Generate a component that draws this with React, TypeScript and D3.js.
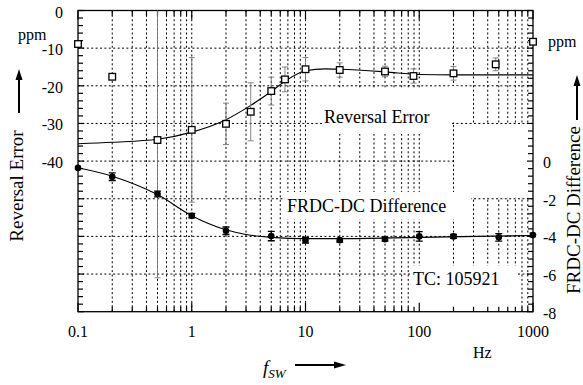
import React from "react";
import * as d3 from "d3";

// Reversal error (ppm, left axis) measured vs. switching frequency
const revFreq = [0.1, 0.2, 0.5, 1, 2, 3.3, 5, 6.6, 10, 20, 50, 89, 200, 470, 1000];
const revValue = [-8.9, -17.6, -34.4, -31.7, -30.1, -26.9, -21.4, -18.3, -15.6, -15.8, -16.2, -17.4, -16.7, -14.3, -8.3];
const revErr = [0, 0, 36.6, 19.2, 5.5, 7.7, 3.7, 3.3, 3.1, 1.9, 1.4, 1.9, 1.8, 1.7, 0];
// Fitted trend for the reversal error
const revFitFreq = [0.1, 0.2, 0.5, 1, 2, 3.3, 5, 6.6, 10, 15, 20, 50, 100, 200, 1000];
const revFitValue = [-35.4, -35.0, -34.2, -32.3, -29.0, -25.2, -21.5, -18.8, -16.0, -15.5, -15.6, -16.3, -17.0, -17.1, -17.1];

// FRDC-DC difference (ppm, right axis)
const frdcFreq = [0.1, 0.2, 0.5, 1, 2, 5, 10, 20, 50, 100, 200, 500, 1000];
const frdcValue = [-0.36, -0.83, -1.75, -2.9, -3.7, -3.98, -4.2, -4.2, -4.15, -4.0, -4.0, -4.05, -3.93];
const frdcErr = [0, 0.2, 0.15, 0.12, 0.2, 0.25, 0.15, 0.1, 0.1, 0.25, 0.1, 0.2, 0.1];
const frdcFitFreq = [0.1, 0.2, 0.5, 1, 2, 3, 5, 10, 20, 100, 1000];
const frdcFitValue = [-0.35, -0.8, -1.78, -2.9, -3.65, -3.9, -4.05, -4.12, -4.12, -4.05, -3.95];

// Axis ticks
const xTickValues = [0.1, 1, 10, 100, 1000];
const xTickLabels = ["0.1", "1", "10", "100", "1000"];
const leftTickValues = [0, -10, -20, -30, -40];
const rightTickValues = [0, -2, -4, -6, -8];

const FONT = "'Liberation Serif', 'Times New Roman', serif";

const L = 78, R = 533, T = 10.5, B = 311.7;

export default function App() {
  const x = d3.scaleLog().domain([0.1, 1000]).range([L, R]);
  const yL = d3.scaleLinear().domain([-80, 0]).range([B, T]);
  const yR = d3.scaleLinear().domain([-8, 8]).range([B, T]);

  // decade and sub-decade positions on the log axis
  const logPos: { v: number; major: boolean }[] = [];
  for (let e = -1; e <= 3; e++) {
    for (let m = 1; m <= 9; m++) {
      const v = m * Math.pow(10, e);
      if (v > 1000.0001) break;
      logPos.push({ v, major: m === 1 });
    }
  }
  const vGrid = logPos.filter((p) => p.v > 0.10001 && p.v < 999.9);
  const hGrid = d3.range(-10, -80, -10);
  const minorY = d3.range(0, -80.01, -2);

  const revFit = d3
    .line<number>()
    .x((_, i) => x(revFitFreq[i]))
    .y((d) => yL(d))
    .curve(d3.curveMonotoneX)(revFitValue);
  const frdcFit = d3
    .line<number>()
    .x((_, i) => x(frdcFitFreq[i]))
    .y((d) => yR(d))
    .curve(d3.curveMonotoneX)(frdcFitValue);

  // white backgrounds behind in-plot labels
  const masks = [
    { x0: 322, x1: 450, y0: 88, y1: 134 },
    { x0: 449, x1: 458, y0: 86, y1: 122 },
    { x0: 455, x1: 532.5, y0: 124, y1: 197.5 },
    { x0: 285, x1: 471, y0: 192, y1: 219 },
    { x0: 411, x1: 518, y0: 266, y1: 311 },
  ];

  const dash = "2,2.4";

  return (
    <svg width={583} height={385} style={{ display: "block", position: "absolute", left: 0, top: 0 }}>
      <defs>
        <clipPath id="plotClip">
          <rect x={L} y={T} width={R - L} height={B - T} />
        </clipPath>
      </defs>
      <rect width={583} height={385} fill="#fff" />

      {/* grid */}
      <g stroke="#000" strokeWidth={1} strokeDasharray={dash}>
        {vGrid.map((p, i) => (
          <line key={"v" + i} x1={x(p.v)} x2={x(p.v)} y1={T} y2={B} />
        ))}
        {hGrid.map((v, i) => (
          <line key={"h" + i} x1={L} x2={R} y1={yL(v)} y2={yL(v)} />
        ))}
      </g>
      {masks.map((m, i) => (
        <rect key={"m" + i} x={m.x0} y={m.y0} width={m.x1 - m.x0} height={m.y1 - m.y0} fill="#fff" />
      ))}

      {/* frame and ticks */}
      <rect x={L} y={T} width={R - L} height={B - T} fill="none" stroke="#000" strokeWidth={1.3} />
      <g stroke="#000" strokeWidth={1.2}>
        {logPos.map((p, i) => {
          const len = p.major ? 9 : 5;
          const xx = x(p.v);
          return (
            <g key={"t" + i}>
              <line x1={xx} x2={xx} y1={T} y2={T + len} />
              <line x1={xx} x2={xx} y1={B} y2={B - len} />
            </g>
          );
        })}
        {minorY.map((v, i) => {
          const len = v % 10 === 0 ? 6 : 5;
          const yy = yL(v);
          return (
            <g key={"y" + i}>
              <line x1={L} x2={L + len} y1={yy} y2={yy} />
              <line x1={R} x2={R - len} y1={yy} y2={yy} />
            </g>
          );
        })}
      </g>

      {/* fits and error bars */}
      <g clipPath="url(#plotClip)">
        <path d={revFit || ""} fill="none" stroke="#000" strokeWidth={1.1} />
        <path d={frdcFit || ""} fill="none" stroke="#000" strokeWidth={1.1} />
        <g stroke="#777" strokeWidth={0.9}>
          {revFreq.map((f, i) =>
            revErr[i] > 0 ? (
              <g key={"re" + i}>
                <line x1={x(f)} x2={x(f)} y1={yL(revValue[i] + revErr[i])} y2={yL(revValue[i] - revErr[i])} />
                <line x1={x(f) - 3} x2={x(f) + 3} y1={yL(revValue[i] + revErr[i])} y2={yL(revValue[i] + revErr[i])} />
                <line x1={x(f) - 3} x2={x(f) + 3} y1={yL(revValue[i] - revErr[i])} y2={yL(revValue[i] - revErr[i])} />
              </g>
            ) : null
          )}
        </g>
        <g stroke="#000" strokeWidth={1.3}>
          {frdcFreq.map((f, i) =>
            frdcErr[i] > 0 ? (
              <g key={"fe" + i}>
                <line x1={x(f)} x2={x(f)} y1={yR(frdcValue[i] + frdcErr[i])} y2={yR(frdcValue[i] - frdcErr[i])} />
                <line x1={x(f) - 3.5} x2={x(f) + 3.5} y1={yR(frdcValue[i] + frdcErr[i])} y2={yR(frdcValue[i] + frdcErr[i])} />
                <line x1={x(f) - 3.5} x2={x(f) + 3.5} y1={yR(frdcValue[i] - frdcErr[i])} y2={yR(frdcValue[i] - frdcErr[i])} />
              </g>
            ) : null
          )}
        </g>
      </g>
      <g fill="#fff" stroke="#000" strokeWidth={1.3}>
        {revFreq.map((f, i) => (
          <rect key={"rm" + i} x={x(f) - 3.3} y={yL(revValue[i]) - 3.3} width={6.6} height={6.6} />
        ))}
      </g>
      <g fill="#000">
        {frdcFreq.map((f, i) => (
          <circle key={"fm" + i} cx={x(f)} cy={yR(frdcValue[i])} r={3.3} />
        ))}
      </g>

      {/* tick labels */}
      <g fontFamily={FONT} fontSize={16} fill="#000">
        {leftTickValues.map((v) => (
          <text key={"lt" + v} x={63} y={yL(v) + 7} textAnchor="end">
            {v}
          </text>
        ))}
        {rightTickValues.map((v) => (
          <text key={"rt" + v} x={543} y={yR(v) + 7} textAnchor="start">
            {v}
          </text>
        ))}
        {xTickValues.map((v, i) => (
          <text key={"xt" + v} x={x(v)} y={337} textAnchor="middle">
            {xTickLabels[i]}
          </text>
        ))}
        <text x={18} y={40}>ppm</text>
        <text x={548} y={47}>ppm</text>
        <text x={473} y={358}>Hz</text>
      </g>

      {/* in-plot labels */}
      <g fontFamily={FONT} fontSize={18} fill="#000">
        <text x={324} y={123}>Reversal Error</text>
        <text x={287} y={212}>FRDC-DC Difference</text>
        <text x={413} y={285}>TC: 105921</text>
      </g>

      {/* axis titles */}
      <g fontFamily={FONT} fontSize={19} fill="#000">
        <text transform="translate(23,186) rotate(-90)" textAnchor="middle">Reversal Error</text>
        <text transform="translate(580,210) rotate(-90)" textAnchor="middle">FRDC-DC Difference</text>
        <text x={263} y={374} fontStyle="italic">
          f<tspan dy={4} fontSize={13}>SW</tspan>
        </text>
      </g>

      {/* arrows */}
      <g stroke="#000" strokeWidth={2} fill="#000">
        <line x1={19} x2={19} y1={113} y2={78} />
        <path d="M19,69 L15.5,80 L22.5,80 Z" stroke="none" />
        <line x1={577} x2={577} y1={120} y2={84} />
        <path d="M577,75 L573.5,86 L580.5,86 Z" stroke="none" />
        <line x1={295} x2={336} y1={365} y2={365} />
        <path d="M346,365 L334,361.5 L334,368.5 Z" stroke="none" />
      </g>
    </svg>
  );
}
